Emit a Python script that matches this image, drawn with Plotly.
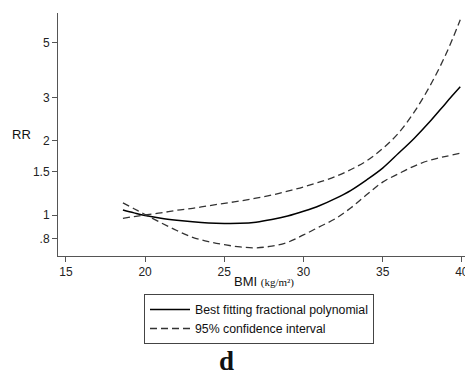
import plotly.graph_objects as go

bmi = [18.6, 19.3, 20, 21, 22, 23, 24, 25, 26, 27, 28, 29, 30, 31, 32, 33, 34, 35, 36, 37, 38, 39, 39.9]
rr_fit = [1.048, 1.02, 0.995, 0.97, 0.952, 0.938, 0.928, 0.924, 0.925, 0.935, 0.958, 0.99, 1.035,
          1.09, 1.165, 1.26, 1.39, 1.55, 1.78, 2.05, 2.4, 2.85, 3.31]
rr_upper = [0.97, 0.985, 1.0, 1.02, 1.045, 1.065, 1.09, 1.115, 1.14, 1.17, 1.205, 1.25, 1.30,
            1.36, 1.43, 1.53, 1.66, 1.86, 2.15, 2.62, 3.35, 4.5, 6.19]
rr_lower = [1.12, 1.06, 1.005, 0.93, 0.865, 0.812, 0.78, 0.758, 0.742, 0.736, 0.748, 0.775, 0.83,
            0.895, 0.965, 1.07, 1.21, 1.36, 1.47, 1.58, 1.67, 1.73, 1.78]

x_ticks = [15, 20, 25, 30, 35, 40]
y_ticks = [0.8, 1, 1.5, 2, 3, 5]
y_ticklabels = [".8", "1", "1.5", "2", "3", "5"]

fig = go.Figure()
fig.add_trace(go.Scatter(x=bmi, y=rr_fit, mode="lines", name="Best fitting fractional polynomial",
                         line=dict(color="black", width=1.5, shape="spline")))
fig.add_trace(go.Scatter(x=bmi, y=rr_upper, mode="lines", name="95% confidence interval",
                         line=dict(color="#333333", width=1.3, dash="7px,4px", shape="spline")))
fig.add_trace(go.Scatter(x=bmi, y=rr_lower, mode="lines", name="95% confidence interval",
                         showlegend=False,
                         line=dict(color="#333333", width=1.3, dash="7px,4px", shape="spline")))

axis_font = dict(family="Liberation Sans, Arial, sans-serif", size=12, color="#222222")

fig.update_layout(
    width=465, height=375,
    margin=dict(l=58, r=0, t=13, b=119, autoexpand=False),
    paper_bgcolor="white", plot_bgcolor="white",
    showlegend=True,
    legend=dict(xref="container", yref="container", x=144 / 465, y=1 - 294 / 375,
                xanchor="left", yanchor="top",
                bordercolor="#444444", borderwidth=1, bgcolor="white",
                font=dict(family="Liberation Sans, Arial, sans-serif", size=12.3, color="#111111"),
                tracegroupgap=0, itemwidth=40),
    xaxis=dict(range=[14.5, 40.2], tickvals=x_ticks, showgrid=False, zeroline=False,
               showline=True, linecolor="#555555", linewidth=1, automargin=False,
               ticklabeloverflow="allow",
               ticks="outside", ticklen=5, tickcolor="#555555", tickfont=axis_font),
    yaxis=dict(type="log", range=[-0.1663, 0.8195], tickvals=y_ticks, ticktext=y_ticklabels,
               showgrid=False, zeroline=False, showline=True, linecolor="#555555", linewidth=1,
               automargin=False,
               ticks="outside", ticklen=5, tickcolor="#555555", tickfont=axis_font),
    annotations=[
        dict(text="RR", xref="paper", yref="paper", x=-0.09, y=(256 - 134) / 243,
             xanchor="center", yanchor="middle",
             showarrow=False, font=dict(family="Liberation Sans, Arial, sans-serif", size=13, color="#111111")),
        dict(text="BMI <span style='font-family:Liberation Serif, Times New Roman, serif; font-size:11px'>(kg/m²)</span>",
             xref="paper", yref="paper", x=(264 - 58) / 407, y=-(281 - 256) / 243,
             xanchor="center", yanchor="middle", showarrow=False,
             font=dict(family="Liberation Sans, Arial, sans-serif", size=13, color="#111111")),
        dict(text="<b>d</b>", xref="paper", yref="paper", x=(226 - 58) / 407, y=-(361 - 256) / 243,
             xanchor="center", yanchor="middle", showarrow=False,
             font=dict(family="Liberation Serif, Times New Roman, serif", size=27, color="#111111")),
    ],
)

fig.write_html("out.html", config={"displayModeBar": False},
               post_script="document.body.style.margin='0';")
